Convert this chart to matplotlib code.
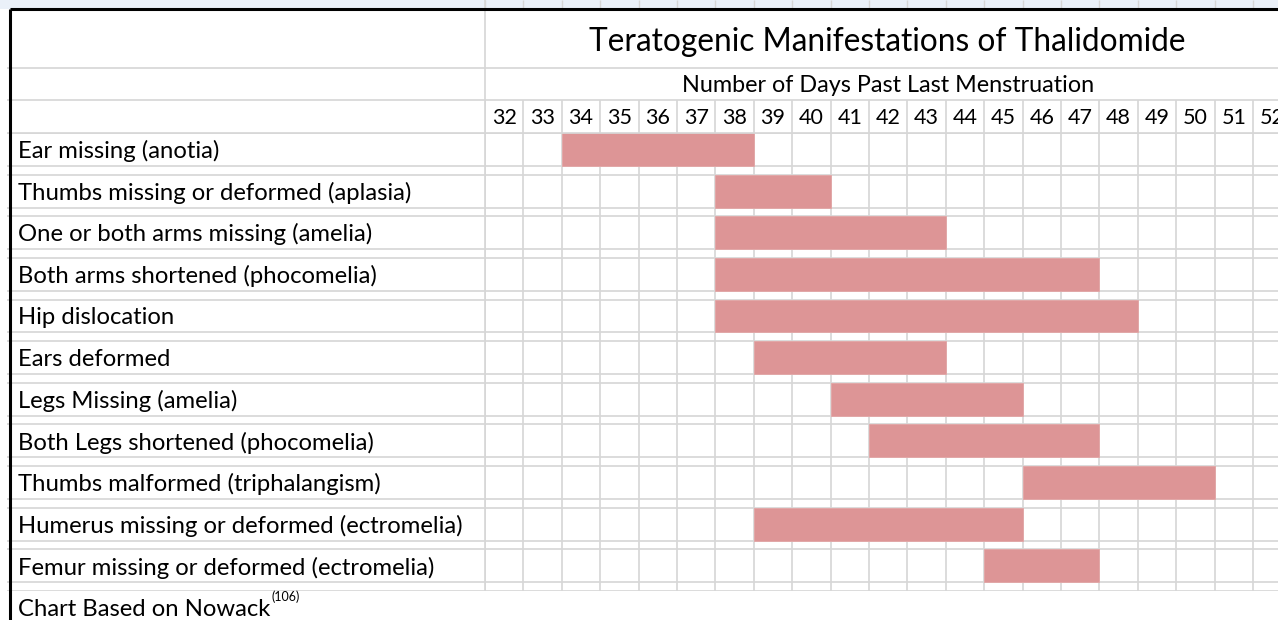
import matplotlib
matplotlib.use('Agg')
import matplotlib.pyplot as plt

# Datos: manifestaciones y rango de días (inicio, fin inclusive)
manifestations = [
    'Ear missing (anotia)',
    'Thumbs missing or deformed (aplasia)',
    'One or both arms missing (amelia)',
    'Both arms shortened (phocomelia)',
    'Hip dislocation',
    'Ears deformed',
    'Legs Missing (amelia)',
    'Both Legs shortened (phocomelia)',
    'Thumbs malformed (triphalangism)',
    'Humerus missing or deformed (ectromelia)',
    'Femur missing or deformed (ectromelia)',
]
start_day = [34, 38, 38, 38, 38, 39, 41, 42, 46, 39, 45]
end_day = [38, 40, 43, 47, 48, 43, 45, 47, 50, 45, 47]
days = list(range(32, 53))

title = 'Teratogenic Manifestations of Thalidomide'
subtitle = 'Number of Days Past Last Menstruation'
source = 'Chart Based on Nowack'
source_ref = '(106)'

FONT = 'Lato'
GRID = '#d6d6d6'
BAR = '#dd9596'
W, H = 1278, 620
COL_W = 38.4      # ancho de columna en píxeles
ROW_MAIN = 0.79   # fracción de la fila ocupada por la celda principal


def fx(px):
    return px / W


def fy(py):
    return 1 - py / H


fig = plt.figure(figsize=(W / 100, H / 100), dpi=100)

# fondo de la captura encima de la hoja
ov = fig.add_axes([0, 0, 1, 1], zorder=0)
ov.set_xlim(0, W)
ov.set_ylim(H, 0)
ov.axis('off')
ov.axhspan(0, 9, color='#eaf0f8', lw=0)

n = len(manifestations)
x_max = days[0] + (W - 485) / COL_W

# zona de barras
ax = fig.add_axes([fx(485), fy(591), fx(W) - fx(485), fy(133) - fy(591)], zorder=2)
ax.set_xlim(days[0], x_max)
ax.set_ylim(n, 0)
widths = [e - s + 1 for s, e in zip(start_day, end_day)]
ax.barh(range(n), widths, left=start_day, height=ROW_MAIN, align='edge',
        color=BAR, edgecolor='#e3a6a6', lw=0.6, zorder=3)
ax.vlines(days + [days[-1] + 1], 0, n, color=GRID, lw=1.2, zorder=1)
for i in range(n):
    ax.hlines([i, i + ROW_MAIN], days[0], x_max, color=GRID, lw=1.2, zorder=1)
ax.hlines(n, days[0], x_max, color=GRID, lw=1.2, zorder=1)
ax.axis('off')

# fila de números de días
ax_days = fig.add_axes([fx(485), fy(133), fx(W) - fx(485), fy(100) - fy(133)],
                       sharex=ax, zorder=2)
ax_days.set_ylim(1, 0)
ax_days.vlines(days + [days[-1] + 1], 0, 1, color=GRID, lw=1.2)
for d in days:
    ax_days.text(d + 0.5, 0.55, str(d), ha='center', va='center',
                 fontsize=15.5, family=FONT, clip_on=True)
ax_days.axis('off')

# pequeñas marcas de columna por encima del borde
ax_stub = fig.add_axes([fx(485), fy(9), fx(W) - fx(485), fy(0) - fy(9)],
                       sharex=ax, zorder=2)
ax_stub.set_ylim(1, 0)
ax_stub.vlines(days + [days[-1] + 1], 0, 1, color=GRID, lw=1.0)
ax_stub.axis('off')

# columna de etiquetas
ax_lab = fig.add_axes([0, fy(591), fx(485), fy(133) - fy(591)], zorder=2)
ax_lab.set_xlim(0, 485)
ax_lab.set_ylim(n, 0)
for i, name in enumerate(manifestations):
    ax_lab.hlines([i, i + ROW_MAIN], 7, 485, color=GRID, lw=1.2)
    ax_lab.text(18, i + ROW_MAIN / 2 + 0.04, name, ha='left', va='center',
                fontsize=17.2, family=FONT)
ax_lab.hlines(n, 7, 485, color=GRID, lw=1.2)
ax_lab.axis('off')

# cabecera (título y subtítulo)
ov2 = fig.add_axes([0, 0, 1, 1], zorder=3)
ov2.set_xlim(0, W)
ov2.set_ylim(H, 0)
ov2.axis('off')
ov2.hlines([68, 100, 133], 7, W, color=GRID, lw=1.2)
ov2.vlines(485, 0, 591, color=GRID, lw=1.2)
ov2.text(887, 42, title, ha='center', va='center', fontsize=22.8, family=FONT)
ov2.text(888, 86, subtitle, ha='center', va='center', fontsize=16.8, family=FONT)

# bordes gruesos de la selección
ov2.hlines(9, 10, W, color='black', lw=2.2)
ov2.vlines(10, 9, H, color='black', lw=2.2)

# nota de la fuente con superíndice
src = ov2.text(18, 609, source, ha='left', va='center', fontsize=17.2, family=FONT)
ov2.annotate(source_ref, xy=(1, 1), xycoords=src, xytext=(1, 1),
             textcoords='offset points', ha='left', va='center',
             fontsize=9, family=FONT)

fig.savefig('out.png', dpi=100)
